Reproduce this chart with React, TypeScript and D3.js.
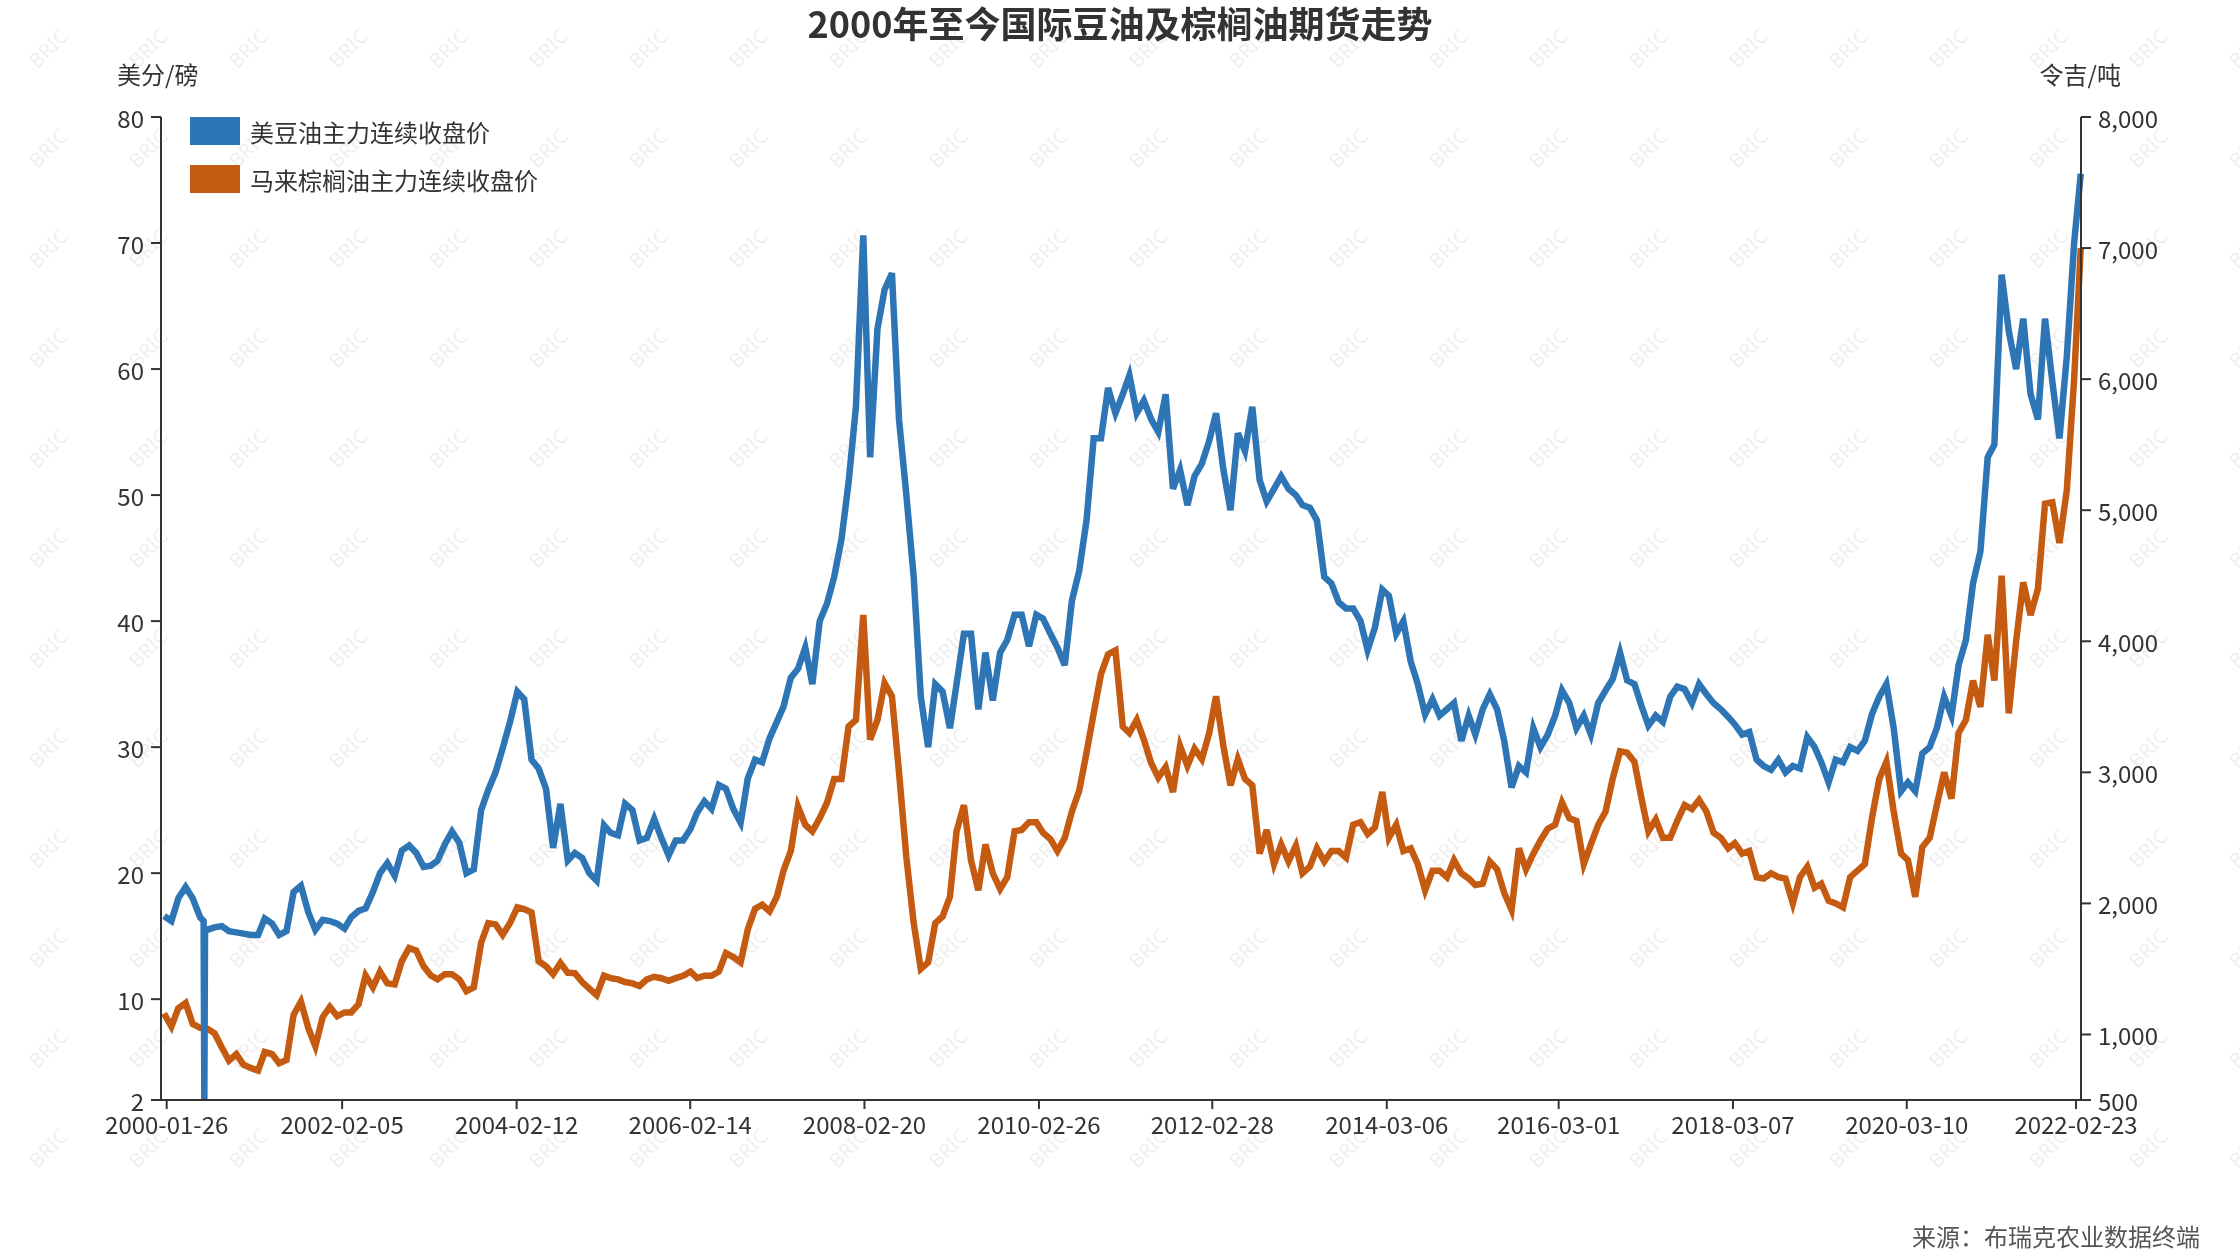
import React from "react";
import * as d3 from "d3";

const title = "2000年至今国际豆油及棕榈油期货走势";
const seriesNames = ["美豆油主力连续收盘价", "马来棕榈油主力连续收盘价"];
const leftUnit = "美分/磅";
const rightUnit = "令吉/吨";
const source = "来源：布瑞克农业数据终端";

const xTickDates = [
  "2000-01-26", "2002-02-05", "2004-02-12", "2006-02-14", "2008-02-20", "2010-02-26",
  "2012-02-28", "2014-03-06", "2016-03-01", "2018-03-07", "2020-03-10", "2022-02-23",
];
const leftTicks = [2, 10, 20, 30, 40, 50, 60, 70, 80];
const rightTicks = [500, 1000, 2000, 3000, 4000, 5000, 6000, 7000, 8000];

// monthly closes from Jan 2000 (US soybean oil, cents/lb)
const soyOil = [
  16.6, 16.2, 18.0, 18.9, 18.0, 16.5, 15.5, 15.7, 15.8, 15.4, 15.3, 15.2, // 2000
  15.1, 15.1, 16.4, 16.0, 15.1, 15.4, 18.5, 19.0, 16.9, 15.5, 16.3, 16.2, // 2001
  16.0, 15.6, 16.5, 17.0, 17.2, 18.5, 20.0, 20.8, 19.8, 21.8, 22.2, 21.6, // 2002
  20.5, 20.6, 21.0, 22.3, 23.3, 22.4, 20.0, 20.3, 25.0, 26.6, 28.0, 29.9, // 2003
  32.0, 34.4, 33.8, 29.0, 28.3, 26.7, 22.0, 25.5, 21.0, 21.6, 21.2, 20.0, // 2004
  19.4, 23.8, 23.2, 23.0, 25.5, 25.0, 22.6, 22.8, 24.3, 22.8, 21.4, 22.6, // 2005
  22.6, 23.5, 24.8, 25.7, 25.1, 27.0, 26.7, 25.1, 24.0, 27.5, 29.0, 28.8, // 2006
  30.7, 32.0, 33.2, 35.5, 36.2, 37.9, 35.0, 40.0, 41.4, 43.5, 46.5, 51.0, // 2007
  57.0, 70.6, 53.0, 63.2, 66.3, 67.6, 56.0, 50.0, 43.5, 34.0, 30.0, 35.0, // 2008
  34.4, 31.5, 35.0, 39.0, 39.0, 33.0, 37.5, 33.7, 37.5, 38.5, 40.5, 40.5, // 2009
  38.0, 40.5, 40.2, 39.0, 37.9, 36.5, 41.6, 44.0, 48.0, 54.5, 54.5, 58.5, // 2010
  56.5, 58.0, 59.5, 56.5, 57.5, 56.0, 55.0, 58.0, 50.5, 52.0, 49.2, 51.5, // 2011
  52.5, 54.3, 56.5, 52.0, 48.8, 54.9, 53.5, 57.0, 51.2, 49.5, 50.5, 51.5, // 2012
  50.5, 50.0, 49.2, 49.0, 48.0, 43.5, 43.0, 41.5, 41.0, 41.0, 40.0, 37.7, // 2013
  39.5, 42.5, 42.0, 39.0, 40.0, 36.8, 35.0, 32.6, 33.8, 32.5, 33.0, 33.5, // 2014
  30.5, 32.5, 31.0, 33.0, 34.2, 33.0, 30.5, 26.8, 28.5, 28.0, 31.5, 30.0, // 2015
  31.0, 32.5, 34.5, 33.5, 31.5, 32.5, 31.0, 33.5, 34.5, 35.4, 37.5, 35.3, // 2016
  35.0, 33.2, 31.7, 32.5, 32.0, 34.0, 34.8, 34.6, 33.5, 35.0, 34.2, 33.5, // 2017
  33.0, 32.4, 31.8, 31.0, 31.2, 29.0, 28.5, 28.2, 29.0, 28.0, 28.5, 28.3, // 2018
  30.8, 30.0, 28.8, 27.2, 29.0, 28.8, 30.0, 29.7, 30.5, 32.6, 34.0, 35.0, // 2019
  31.5, 26.5, 27.2, 26.5, 29.5, 30.0, 31.5, 34.0, 32.5, 36.5, 38.5, 43.0, // 2020
  45.5, 53.0, 54.0, 67.5, 63.0, 60.0, 64.0, 58.0, 56.0, 64.0, 59.0, 54.5, // 2021
  61.0, 70.0, 75.5, // 2022
];

// the one bad print in summer 2000 that drops to the axis
const soyOilBadPrint: [string, number][] = [
  ["2000-06-30", 16.2],
  ["2000-07-03", 2],
  ["2000-07-06", 15.6],
];

// Malaysian palm oil, ringgit/ton
const palmOil = [
  1160, 1060, 1200, 1240, 1080, 1050, 1045, 1010, 900, 800, 850, 770, // 2000
  745, 725, 866, 850, 780, 805, 1150, 1250, 1050, 910, 1133, 1210, // 2001
  1140, 1168, 1168, 1230, 1450, 1360, 1480, 1390, 1382, 1560, 1660, 1640, // 2002
  1520, 1450, 1420, 1460, 1460, 1420, 1330, 1360, 1700, 1850, 1840, 1760, // 2003
  1850, 1970, 1956, 1930, 1560, 1520, 1460, 1546, 1470, 1468, 1400, 1350, // 2004
  1300, 1448, 1430, 1420, 1400, 1390, 1370, 1420, 1440, 1429, 1409, 1430, // 2005
  1448, 1480, 1430, 1448, 1448, 1480, 1620, 1590, 1550, 1800, 1960, 1990, // 2006
  1940, 2050, 2250, 2400, 2740, 2600, 2550, 2650, 2770, 2950, 2950, 3350, // 2007
  3400, 4200, 3250, 3400, 3680, 3580, 3000, 2350, 1850, 1500, 1550, 1850, // 2008
  1900, 2050, 2550, 2750, 2330, 2100, 2450, 2230, 2110, 2200, 2550, 2560, // 2009
  2620, 2620, 2540, 2490, 2400, 2500, 2700, 2860, 3150, 3450, 3750, 3900, // 2010
  3930, 3350, 3300, 3400, 3250, 3070, 2960, 3040, 2850, 3200, 3050, 3180, // 2011
  3100, 3300, 3580, 3200, 2900, 3100, 2950, 2900, 2380, 2560, 2300, 2450, // 2012
  2320, 2440, 2230, 2280, 2420, 2320, 2400, 2400, 2350, 2600, 2620, 2530, // 2013
  2580, 2850, 2500, 2600, 2400, 2420, 2300, 2100, 2250, 2250, 2200, 2330, // 2014
  2230, 2190, 2140, 2150, 2320, 2260, 2080, 1950, 2420, 2260, 2380, 2480, // 2015
  2570, 2600, 2770, 2650, 2630, 2300, 2450, 2600, 2700, 2950, 3160, 3150, // 2016
  3080, 2790, 2550, 2640, 2500, 2500, 2630, 2750, 2720, 2790, 2700, 2540, // 2017
  2500, 2420, 2460, 2380, 2400, 2200, 2190, 2230, 2200, 2190, 2000, 2200, // 2018
  2280, 2120, 2150, 2020, 2000, 1970, 2200, 2250, 2300, 2650, 2950, 3080, // 2019
  2700, 2380, 2330, 2050, 2430, 2500, 2750, 3000, 2800, 3300, 3400, 3700, // 2020
  3500, 4050, 3700, 4500, 3450, 4000, 4450, 4200, 4400, 5050, 5060, 4750, // 2021
  5150, 6000, 7000, // 2022
];

const colors = ["#2E75B6", "#C55A11"];

const W = 2240;
const H = 1260;
const plot = { left: 161, right: 2081, top: 117, bottom: 1100 };
const font = "'Noto Sans CJK SC', 'Noto Sans', sans-serif";
const textColor = "#333";
const axisColor = "#333";

type Pt = [Date, number];

export default function App() {
  const parse = d3.timeParse("%Y-%m-%d");
  const firstMonth = new Date(2000, 0, 15);
  const monthDates = soyOil.map((_, i) => d3.timeMonth.offset(firstMonth, i));

  const x = d3
    .scaleTime()
    .domain([new Date(2000, 0, 2), new Date(2022, 2, 16)])
    .range([plot.left, plot.right]);
  const yLeft = d3.scaleLinear().domain([2, 80]).range([plot.bottom, plot.top]);
  const yRight = d3.scaleLinear().domain([500, 8000]).range([plot.bottom, plot.top]);

  const soyPts: Pt[] = monthDates
    .map((d, i) => [d, soyOil[i]] as Pt)
    .concat(soyOilBadPrint.map(([d, v]) => [parse(d) as Date, v] as Pt))
    .sort((a, b) => +a[0] - +b[0]);
  const palmPts: Pt[] = monthDates.map((d, i) => [d, palmOil[i]] as Pt);

  const soyLine = d3.line<Pt>().x((d) => x(d[0])).y((d) => yLeft(d[1]));
  const palmLine = d3.line<Pt>().x((d) => x(d[0])).y((d) => yRight(d[1]));

  const tickLen = 10;
  const fmtRight = d3.format(",");

  // watermark grid
  const marks: [number, number][] = [];
  for (let i = 0; i < 23; i++) for (let j = 0; j < 12; j++) marks.push([48 + i * 100, 48 + j * 100]);

  return (
    <div style={{ position: "absolute", left: 0, top: 0, background: "#fff" }}>
      <svg width={W} height={H} style={{ display: "block", fontFamily: font }}>
        <rect width={W} height={H} fill="#fff" />

        {/* watermark */}
        <g fill="#000" opacity={0.07} fontSize={20} fontFamily="'Noto Sans', sans-serif">
          {marks.map(([mx, my], i) => (
            <text key={i} x={mx} y={my} textAnchor="middle" dominantBaseline="central"
              transform={`rotate(-45, ${mx}, ${my})`}>BRIC</text>
          ))}
        </g>

        <text x={W / 2} y={22} textAnchor="middle" dominantBaseline="central"
          fontSize={36} fontWeight="bold" fill={textColor}>{title}</text>

        <text x={117} y={73} dominantBaseline="central" fontSize={24} fill={textColor}>{leftUnit}</text>
        <text x={2121} y={73} textAnchor="end" dominantBaseline="central" fontSize={24} fill={textColor}>{rightUnit}</text>

        {/* lines */}
        <path d={palmLine(palmPts) || ""} fill="none" stroke={colors[1]} strokeWidth={6.5} />
        <path d={soyLine(soyPts) || ""} fill="none" stroke={colors[0]} strokeWidth={6.5} />

        {/* axes */}
        <g stroke={axisColor} strokeWidth={2}>
          <line x1={plot.left} x2={plot.left} y1={plot.top} y2={plot.bottom} />
          <line x1={plot.right} x2={plot.right} y1={plot.top} y2={plot.bottom} />
          <line x1={plot.left - tickLen} x2={plot.right + tickLen} y1={plot.bottom} y2={plot.bottom} />
          {leftTicks.map((t) => (
            <line key={t} x1={plot.left - tickLen} x2={plot.left} y1={yLeft(t)} y2={yLeft(t)} />
          ))}
          {rightTicks.map((t) => (
            <line key={t} x1={plot.right} x2={plot.right + tickLen} y1={yRight(t)} y2={yRight(t)} />
          ))}
          {xTickDates.map((t) => {
            const px = x(parse(t) as Date);
            return <line key={t} x1={px} x2={px} y1={plot.bottom} y2={plot.bottom + 9} />;
          })}
        </g>
        <g fontSize={24} fill={textColor}>
          {leftTicks.map((t) => (
            <text key={t} x={plot.left - tickLen - 7} y={yLeft(t)} textAnchor="end" dominantBaseline="central">{t}</text>
          ))}
          {rightTicks.map((t) => (
            <text key={t} x={plot.right + tickLen + 7} y={yRight(t)} dominantBaseline="central">{fmtRight(t)}</text>
          ))}
          {xTickDates.map((t) => (
            <text key={t} x={x(parse(t) as Date)} y={1134} textAnchor="middle">{t}</text>
          ))}
        </g>

        {/* legend */}
        {seriesNames.map((name, i) => (
          <g key={name}>
            <rect x={190} y={117 + i * 48} width={50} height={28} fill={colors[i]} />
            <text x={250} y={131 + i * 48} dominantBaseline="central" fontSize={24} fill={textColor}>{name}</text>
          </g>
        ))}

        <text x={2200} y={1235} textAnchor="end" dominantBaseline="central" fontSize={24} fill="#555">{source}</text>
      </svg>
    </div>
  );
}
